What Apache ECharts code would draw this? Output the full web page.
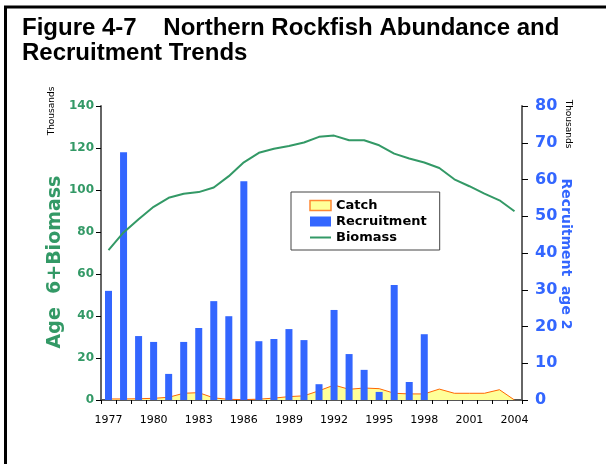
<!DOCTYPE html>
<html>
<head>
<meta charset="utf-8">
<script src="https://cdn.jsdelivr.net/npm/echarts@6/dist/echarts.min.js"></script>
<style>
  html, body { margin: 0; padding: 0; background: #fff; }
  #chart { width: 606px; height: 464px; }
</style>
</head>
<body>
<div id="chart"></div>
<script>
// years on the x axis
var years = [];
for (var y = 1977; y <= 2004; y++) years.push(String(y));

// recruitment age 2 (thousands, right axis)
var recruitment = [29.7, 67.4, 17.4, 15.8, 7.1, 15.8, 19.6, 26.9, 22.8, 59.5,
  16.0, 16.6, 19.3, 16.3, 4.3, 24.5, 12.5, 8.2, 2.2, 31.3,
  4.9, 17.9, 0, 0, 0, 0, 0, 0];

// age 6+ biomass (thousands, left axis)
var biomass = [71.4, 79.8, 86.1, 92.0, 96.3, 98.2, 99.0, 101.2, 106.6, 113.2,
  117.7, 119.6, 121.0, 122.6, 125.3, 125.9, 123.7, 123.7, 121.3, 117.3,
  115.0, 113.1, 110.5, 105.1, 101.8, 98.3, 95.1, 89.9];

// catch (thousands, left axis)
var catchData = [0.5, 0.5, 0.6, 0.8, 1.3, 3.2, 3.5, 1.0, 0.3, 0.2,
  0.4, 0.9, 1.6, 2.0, 4.4, 7.1, 5.1, 5.7, 5.4, 3.2,
  2.9, 2.9, 5.2, 3.2, 3.2, 3.2, 4.9, 0];

var myChart = echarts.init(document.getElementById("chart"));
var comic = "'Comic Sans MS', 'DejaVu Sans', sans-serif";

var option = {
  animation: false,
  backgroundColor: "#fff",
  title: {
    text: "Figure 4-7    Northern Rockfish Abundance and\nRecruitment Trends",
    left: 17,
    top: 11,
    textStyle: {
      fontFamily: "'Liberation Sans', Arial, sans-serif",
      fontSize: 24,
      fontWeight: "bold",
      color: "#000",
      lineHeight: 25
    }
  },
  legend: {
    orient: "vertical",
    left: 291,
    top: 192,
    padding: [7, 13, 6, 18],
    borderColor: "#444",
    borderWidth: 1,
    itemWidth: 21,
    itemHeight: 10,
    itemGap: 3,
    data: [
      { name: "Catch", icon: "rect", itemStyle: { color: "#ffff99", borderColor: "#ff8833", borderWidth: 1.5 } },
      { name: "Recruitment", icon: "rect" },
      { name: "Biomass", itemStyle: { opacity: 0 }, lineStyle: { color: "#339966", width: 2 } }
    ],
    textStyle: {
      fontFamily: comic,
      fontSize: 13,
      fontWeight: "bold",
      color: "#000"
    }
  },
  grid: {
    left: 101,
    right: 84,
    top: 106,
    bottom: 64
  },
  xAxis: {
    type: "category",
    data: years,
    boundaryGap: true,
    axisLine: { lineStyle: { color: "#555", width: 2 } },
    axisTick: { show: true, length: 4, interval: 0, lineStyle: { color: "#000" } },
    axisLabel: {
      interval: 2,
      margin: 15,
      fontFamily: "'DejaVu Sans', Verdana, sans-serif",
      fontSize: 11,
      color: "#000"
    },
    splitLine: { show: false }
  },
  yAxis: [
    {
      type: "value",
      min: 0,
      max: 140,
      interval: 20,
      axisLine: { show: true, lineStyle: { color: "#666", width: 2 } },
      axisTick: { show: true, length: 5, lineStyle: { color: "#000" } },
      axisLabel: {
        margin: 7,
        fontFamily: comic,
        fontSize: 12,
        fontWeight: "bold",
        color: "#339966"
      },
      splitLine: { show: false }
    },
    {
      type: "value",
      min: 0,
      max: 80,
      interval: 10,
      position: "right",
      axisLine: { show: true, lineStyle: { color: "#666", width: 2 } },
      axisTick: { show: true, length: 6, lineStyle: { color: "#000" } },
      axisLabel: {
        margin: 13,
        fontFamily: comic,
        fontSize: 16,
        fontWeight: "bold",
        color: "#3366ff"
      },
      splitLine: { show: false }
    }
  ],
  series: [
    {
      name: "Catch",
      type: "line",
      yAxisIndex: 0,
      data: catchData,
      symbol: "none",
      z: 1,
      lineStyle: { color: "#ff6600", width: 1 },
      itemStyle: { color: "#ffff99" },
      areaStyle: { color: "#ffff99", opacity: 1 }
    },
    {
      name: "Recruitment",
      type: "bar",
      yAxisIndex: 1,
      data: recruitment,
      barWidth: 7,
      z: 2,
      itemStyle: { color: "#3366ff" }
    },
    {
      name: "Biomass",
      type: "line",
      yAxisIndex: 0,
      data: biomass,
      symbol: "none",
      z: 3,
      lineStyle: { color: "#339966", width: 2 },
      itemStyle: { color: "#339966" }
    }
  ],
  graphic: [
    {
      type: "line",
      shape: { x1: 4, y1: 7, x2: 606, y2: 7 },
      style: { stroke: "#000", lineWidth: 3 }
    },
    {
      type: "line",
      shape: { x1: 5.5, y1: 6, x2: 5.5, y2: 464 },
      style: { stroke: "#000", lineWidth: 3 }
    },
    {
      // left axis title
      type: "text",
      x: 55,
      y: 262,
      rotation: Math.PI / 2,
      style: {
        text: "Age  6+Biomass",
        fontFamily: comic,
        fontSize: 19,
        fontWeight: "bold",
        fill: "#339966",
        align: "center",
        verticalAlign: "middle"
      }
    },
    {
      // right axis title
      type: "text",
      x: 566,
      y: 254,
      rotation: -Math.PI / 2,
      style: {
        text: "Recruitment  age 2",
        fontFamily: comic,
        fontSize: 14,
        fontWeight: "bold",
        fill: "#3366ff",
        align: "center",
        verticalAlign: "middle"
      }
    },
    {
      type: "text",
      x: 52,
      y: 111,
      rotation: Math.PI / 2,
      style: {
        text: "Thousands",
        fontFamily: comic,
        fontSize: 9,
        fill: "#000",
        align: "center",
        verticalAlign: "middle"
      }
    },
    {
      type: "text",
      x: 568,
      y: 124,
      rotation: -Math.PI / 2,
      style: {
        text: "Thousands",
        fontFamily: comic,
        fontSize: 9,
        fill: "#000",
        align: "center",
        verticalAlign: "middle"
      }
    }
  ]
};

myChart.setOption(option, true);
window.addEventListener("resize", function () {
  myChart.resize();
});
</script>
</body>
</html>
